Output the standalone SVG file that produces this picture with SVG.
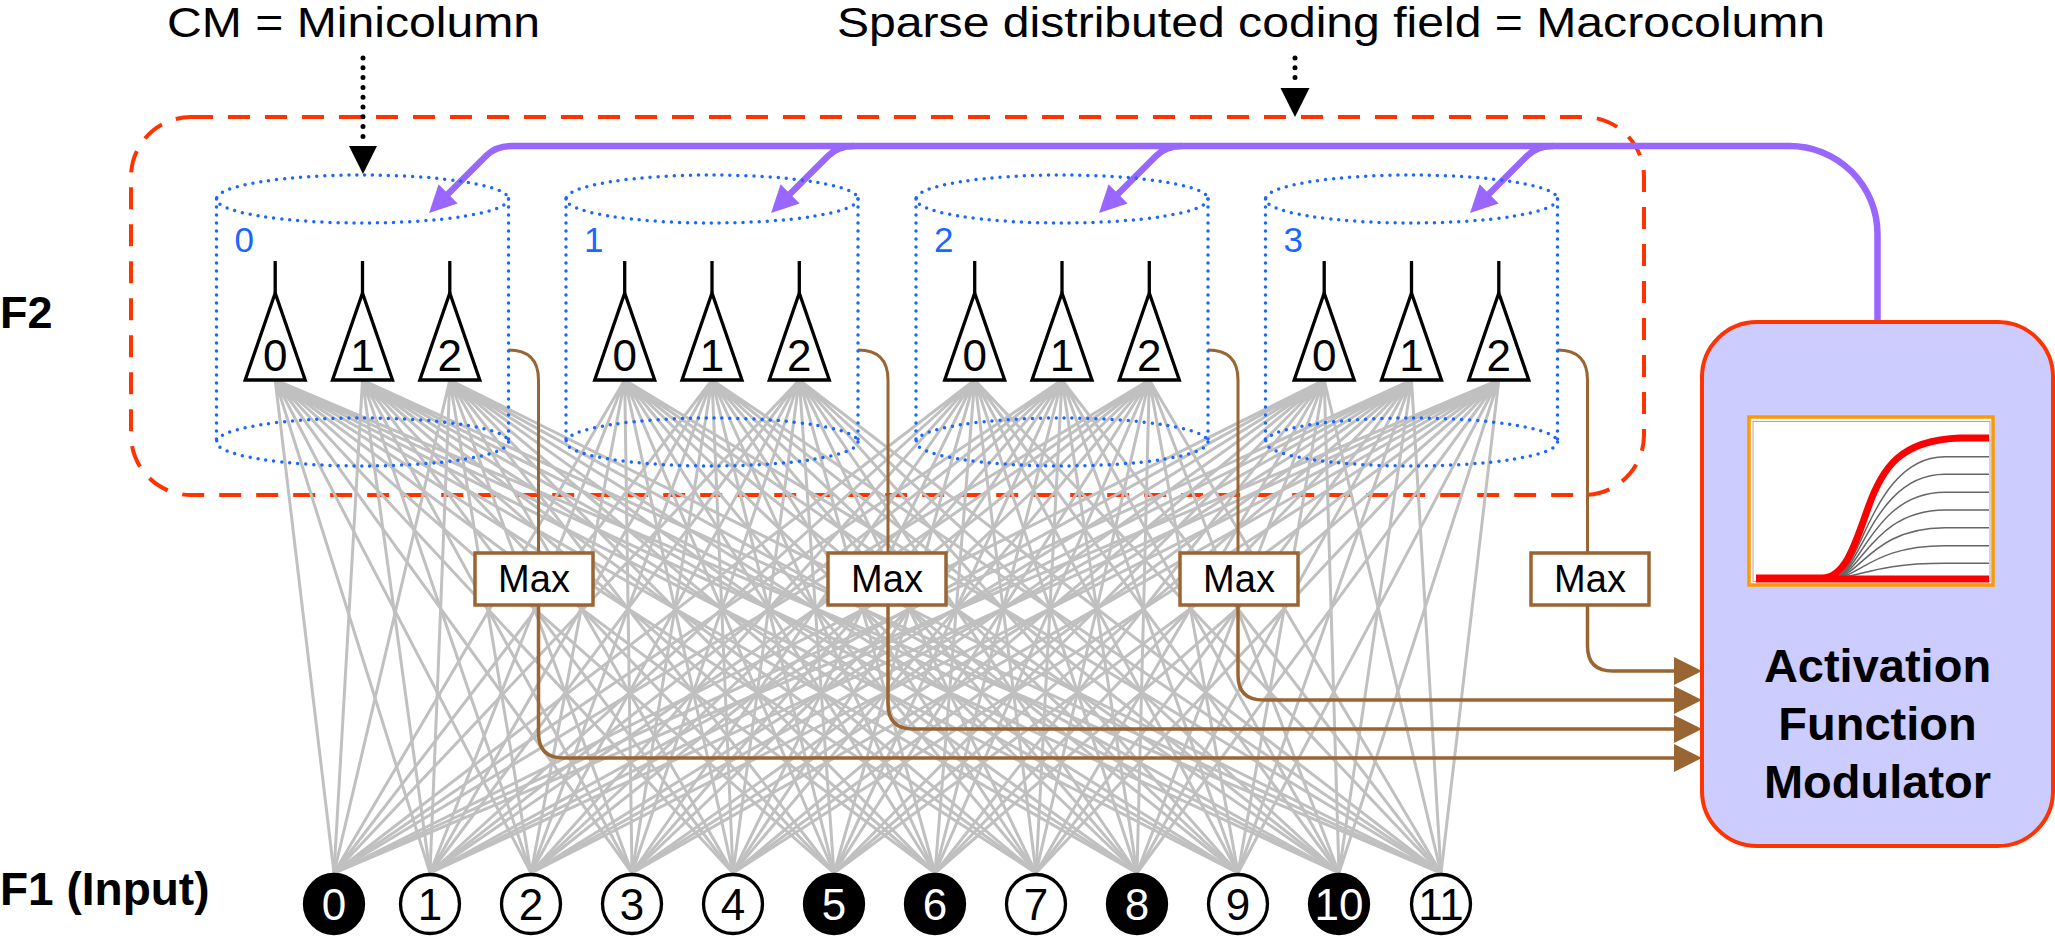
<svg xmlns="http://www.w3.org/2000/svg" width="2055" height="936" viewBox="0 0 2055 936">
<style>
text{font-family:"Liberation Sans",Arial,Helvetica,sans-serif;fill:#000}
.title{font-size:43px}
.lab{font-size:45px;font-weight:bold}
.cyl{fill:none;stroke:#1a66ff;stroke-width:3.5;stroke-dasharray:0 8;stroke-linecap:round}
.cnum{font-size:35px;fill:#1a66ff}
.tri{fill:#fff;stroke:#000;stroke-width:3.3}
.stem{stroke:#000;stroke-width:3.3}
.ndig{font-size:44px;text-anchor:middle}
.syn{fill:none;stroke:#c0c0c0;stroke-width:3}
.maxbox{fill:#fff;stroke:#996633;stroke-width:3.5}
.maxt{font-size:38px;text-anchor:middle}
.bup{fill:none;stroke:#996633;stroke-width:3}
.bdn{fill:none;stroke:#996633;stroke-width:3.5}
.pur{fill:none;stroke:#9966ff;stroke-width:6.5}
.dot{fill:none;stroke:#000;stroke-width:5;stroke-dasharray:0 9.8;stroke-linecap:round}
.inp{stroke:#000;stroke-width:3.3}
.on{fill:#000}
.off{fill:#fff}
.idig{font-size:44px;text-anchor:middle}
.afm{font-size:47px;font-weight:bold;text-anchor:middle}
.gc{fill:none;stroke:#666;stroke-width:1.5}
.rc{fill:none;stroke:#ff0000;stroke-width:7}
</style>
<defs>
<marker id="ahP" markerUnits="userSpaceOnUse" markerWidth="27" markerHeight="27" refX="19" refY="13.5" orient="auto"><path d="M0,0 L27,13.5 L0,27 z" fill="#9966ff"/></marker>
<marker id="ahB" markerUnits="userSpaceOnUse" markerWidth="28" markerHeight="28" refX="16" refY="14" orient="auto"><path d="M0,0 L28,14 L0,28 z" fill="#996633"/></marker>
</defs>
<rect width="2055" height="936" fill="#fff"/>

<g id="titles">
<text class="title" x="167" y="37" textLength="373" lengthAdjust="spacingAndGlyphs">CM = Minicolumn</text>
<text class="title" x="837" y="37" textLength="988" lengthAdjust="spacingAndGlyphs">Sparse distributed coding field = Macrocolumn</text>
<text class="lab" x="0" y="328">F2</text>
<text class="lab" x="0" y="905" style="font-size:46px">F1 (Input)</text>
</g>

<g id="macrocolumn">
<rect x="131" y="117" width="1513" height="378" rx="60" ry="60" fill="none" stroke="#ff3300" stroke-width="4" stroke-dasharray="22 15"/>
</g>

<g id="connectors">
<g id="synapses">
<path class="syn" d="M275.2,380L334,873M275.2,380L430,873M275.2,380L531,873M275.2,380L632,873M275.2,380L733,873M275.2,380L834,873M275.2,380L935,873M275.2,380L1036,873M275.2,380L1137,873M275.2,380L1238,873M275.2,380L1339,873M275.2,380L1441,873"/>
<path class="syn" d="M362.5,380L334,873M362.5,380L430,873M362.5,380L531,873M362.5,380L632,873M362.5,380L733,873M362.5,380L834,873M362.5,380L935,873M362.5,380L1036,873M362.5,380L1137,873M362.5,380L1238,873M362.5,380L1339,873M362.5,380L1441,873"/>
<path class="syn" d="M449.8,380L334,873M449.8,380L430,873M449.8,380L531,873M449.8,380L632,873M449.8,380L733,873M449.8,380L834,873M449.8,380L935,873M449.8,380L1036,873M449.8,380L1137,873M449.8,380L1238,873M449.8,380L1339,873M449.8,380L1441,873"/>
<path class="syn" d="M624.7,380L334,873M624.7,380L430,873M624.7,380L531,873M624.7,380L632,873M624.7,380L733,873M624.7,380L834,873M624.7,380L935,873M624.7,380L1036,873M624.7,380L1137,873M624.7,380L1238,873M624.7,380L1339,873M624.7,380L1441,873"/>
<path class="syn" d="M712,380L334,873M712,380L430,873M712,380L531,873M712,380L632,873M712,380L733,873M712,380L834,873M712,380L935,873M712,380L1036,873M712,380L1137,873M712,380L1238,873M712,380L1339,873M712,380L1441,873"/>
<path class="syn" d="M799.3,380L334,873M799.3,380L430,873M799.3,380L531,873M799.3,380L632,873M799.3,380L733,873M799.3,380L834,873M799.3,380L935,873M799.3,380L1036,873M799.3,380L1137,873M799.3,380L1238,873M799.3,380L1339,873M799.3,380L1441,873"/>
<path class="syn" d="M974.7,380L334,873M974.7,380L430,873M974.7,380L531,873M974.7,380L632,873M974.7,380L733,873M974.7,380L834,873M974.7,380L935,873M974.7,380L1036,873M974.7,380L1137,873M974.7,380L1238,873M974.7,380L1339,873M974.7,380L1441,873"/>
<path class="syn" d="M1062,380L334,873M1062,380L430,873M1062,380L531,873M1062,380L632,873M1062,380L733,873M1062,380L834,873M1062,380L935,873M1062,380L1036,873M1062,380L1137,873M1062,380L1238,873M1062,380L1339,873M1062,380L1441,873"/>
<path class="syn" d="M1149.3,380L334,873M1149.3,380L430,873M1149.3,380L531,873M1149.3,380L632,873M1149.3,380L733,873M1149.3,380L834,873M1149.3,380L935,873M1149.3,380L1036,873M1149.3,380L1137,873M1149.3,380L1238,873M1149.3,380L1339,873M1149.3,380L1441,873"/>
<path class="syn" d="M1324.2,380L334,873M1324.2,380L430,873M1324.2,380L531,873M1324.2,380L632,873M1324.2,380L733,873M1324.2,380L834,873M1324.2,380L935,873M1324.2,380L1036,873M1324.2,380L1137,873M1324.2,380L1238,873M1324.2,380L1339,873M1324.2,380L1441,873"/>
<path class="syn" d="M1411.5,380L334,873M1411.5,380L430,873M1411.5,380L531,873M1411.5,380L632,873M1411.5,380L733,873M1411.5,380L834,873M1411.5,380L935,873M1411.5,380L1036,873M1411.5,380L1137,873M1411.5,380L1238,873M1411.5,380L1339,873M1411.5,380L1441,873"/>
<path class="syn" d="M1498.8,380L334,873M1498.8,380L430,873M1498.8,380L531,873M1498.8,380L632,873M1498.8,380L733,873M1498.8,380L834,873M1498.8,380L935,873M1498.8,380L1036,873M1498.8,380L1137,873M1498.8,380L1238,873M1498.8,380L1339,873M1498.8,380L1441,873"/>
</g>
<g id="to-max">
<path class="bup" d="M508.5,350 Q538.5,350 538.5,380 V553"/>
<path class="bup" d="M858,350 Q888,350 888,380 V553"/>
<path class="bup" d="M1208,350 Q1238,350 1238,380 V553"/>
<path class="bup" d="M1557.5,350 Q1587.5,350 1587.5,380 V553"/>
</g>
<g id="max-to-afm">
<path class="bdn" d="M538.5,605 V733 Q538.5,758 563.5,758 H1690" marker-end="url(#ahB)"/>
<path class="bdn" d="M888,605 V704 Q888,729 913,729 H1690" marker-end="url(#ahB)"/>
<path class="bdn" d="M1238,605 V675 Q1238,700 1263,700 H1690" marker-end="url(#ahB)"/>
<path class="bdn" d="M1587.5,605 V646 Q1587.5,671 1612.5,671 H1690" marker-end="url(#ahB)"/>
</g>
<g id="feedback">
<path class="pur" d="M1877.5,322 V234 A88,88 0 0 0 1789.5,146 H512 Q496,146 486,156 L434.7,207.3" marker-end="url(#ahP)"/>
<path class="pur" d="M854,146 Q838,146 828,156 L776.7,207.3" marker-end="url(#ahP)"/>
<path class="pur" d="M1182,146 Q1166,146 1156,156 L1104.7,207.3" marker-end="url(#ahP)"/>
<path class="pur" d="M1553,146 Q1537,146 1527,156 L1475.7,207.3" marker-end="url(#ahP)"/>
</g>
<g id="label-pointers">
<line class="dot" x1="363" y1="58" x2="363" y2="137"/>
<polygon points="349,146 377,146 363,174" fill="#000"/>
<line class="dot" x1="1295" y1="58" x2="1295" y2="79"/>
<polygon points="1280.5,88 1309.5,88 1295,117" fill="#000"/>
</g>
</g>

<g id="minicolumn-0">
<ellipse class="cyl" cx="362.5" cy="199" rx="146" ry="24"/>
<ellipse class="cyl" cx="362.5" cy="442" rx="146" ry="24"/>
<line class="cyl" x1="216.5" y1="199" x2="216.5" y2="442"/>
<line class="cyl" x1="508.5" y1="199" x2="508.5" y2="442"/>
<text class="cnum" x="234.5" y="252">0</text>
<g id="cm0-cell0"><line class="stem" x1="275.2" y1="261" x2="275.2" y2="293"/><polygon class="tri" points="275.2,293 245.2,380 305.2,380"/><text class="ndig" x="275.2" y="371">0</text></g>
<g id="cm0-cell1"><line class="stem" x1="362.5" y1="261" x2="362.5" y2="293"/><polygon class="tri" points="362.5,293 332.5,380 392.5,380"/><text class="ndig" x="362.5" y="371">1</text></g>
<g id="cm0-cell2"><line class="stem" x1="449.8" y1="261" x2="449.8" y2="293"/><polygon class="tri" points="449.8,293 419.8,380 479.8,380"/><text class="ndig" x="449.8" y="371">2</text></g>
</g>

<g id="minicolumn-1">
<ellipse class="cyl" cx="712" cy="199" rx="146" ry="24"/>
<ellipse class="cyl" cx="712" cy="442" rx="146" ry="24"/>
<line class="cyl" x1="566" y1="199" x2="566" y2="442"/>
<line class="cyl" x1="858" y1="199" x2="858" y2="442"/>
<text class="cnum" x="584" y="252">1</text>
<g id="cm1-cell0"><line class="stem" x1="624.7" y1="261" x2="624.7" y2="293"/><polygon class="tri" points="624.7,293 594.7,380 654.7,380"/><text class="ndig" x="624.7" y="371">0</text></g>
<g id="cm1-cell1"><line class="stem" x1="712" y1="261" x2="712" y2="293"/><polygon class="tri" points="712,293 682,380 742,380"/><text class="ndig" x="712" y="371">1</text></g>
<g id="cm1-cell2"><line class="stem" x1="799.3" y1="261" x2="799.3" y2="293"/><polygon class="tri" points="799.3,293 769.3,380 829.3,380"/><text class="ndig" x="799.3" y="371">2</text></g>
</g>

<g id="minicolumn-2">
<ellipse class="cyl" cx="1062" cy="199" rx="146" ry="24"/>
<ellipse class="cyl" cx="1062" cy="442" rx="146" ry="24"/>
<line class="cyl" x1="916" y1="199" x2="916" y2="442"/>
<line class="cyl" x1="1208" y1="199" x2="1208" y2="442"/>
<text class="cnum" x="934" y="252">2</text>
<g id="cm2-cell0"><line class="stem" x1="974.7" y1="261" x2="974.7" y2="293"/><polygon class="tri" points="974.7,293 944.7,380 1004.7,380"/><text class="ndig" x="974.7" y="371">0</text></g>
<g id="cm2-cell1"><line class="stem" x1="1062" y1="261" x2="1062" y2="293"/><polygon class="tri" points="1062,293 1032,380 1092,380"/><text class="ndig" x="1062" y="371">1</text></g>
<g id="cm2-cell2"><line class="stem" x1="1149.3" y1="261" x2="1149.3" y2="293"/><polygon class="tri" points="1149.3,293 1119.3,380 1179.3,380"/><text class="ndig" x="1149.3" y="371">2</text></g>
</g>

<g id="minicolumn-3">
<ellipse class="cyl" cx="1411.5" cy="199" rx="146" ry="24"/>
<ellipse class="cyl" cx="1411.5" cy="442" rx="146" ry="24"/>
<line class="cyl" x1="1265.5" y1="199" x2="1265.5" y2="442"/>
<line class="cyl" x1="1557.5" y1="199" x2="1557.5" y2="442"/>
<text class="cnum" x="1283.5" y="252">3</text>
<g id="cm3-cell0"><line class="stem" x1="1324.2" y1="261" x2="1324.2" y2="293"/><polygon class="tri" points="1324.2,293 1294.2,380 1354.2,380"/><text class="ndig" x="1324.2" y="371">0</text></g>
<g id="cm3-cell1"><line class="stem" x1="1411.5" y1="261" x2="1411.5" y2="293"/><polygon class="tri" points="1411.5,293 1381.5,380 1441.5,380"/><text class="ndig" x="1411.5" y="371">1</text></g>
<g id="cm3-cell2"><line class="stem" x1="1498.8" y1="261" x2="1498.8" y2="293"/><polygon class="tri" points="1498.8,293 1468.8,380 1528.8,380"/><text class="ndig" x="1498.8" y="371">2</text></g>
</g>

<g id="max-0"><rect class="maxbox" x="475" y="553" width="118" height="52"/><text class="maxt" x="534" y="592">Max</text></g>
<g id="max-1"><rect class="maxbox" x="828" y="553" width="118" height="52"/><text class="maxt" x="887" y="592">Max</text></g>
<g id="max-2"><rect class="maxbox" x="1180" y="553" width="118" height="52"/><text class="maxt" x="1239" y="592">Max</text></g>
<g id="max-3"><rect class="maxbox" x="1531" y="553" width="118" height="52"/><text class="maxt" x="1590" y="592">Max</text></g>

<g id="afm">
<rect x="1702" y="322" width="351" height="524" rx="55" ry="55" fill="#ccccff" stroke="#ff3300" stroke-width="4"/>
<rect x="1749" y="417" width="244" height="168" fill="#fff" stroke="#ff9900" stroke-width="3.5"/>
<rect x="1753" y="421.5" width="237" height="160" fill="none" stroke="#aaa" stroke-width="1"/>
<path class="gc" d="M1833,578 C1860,578 1872,563.3 1945,563.3 H1989"/>
<path class="gc" d="M1833,578 C1860,578 1872,545.7 1945,545.7 H1989"/>
<path class="gc" d="M1833,578 C1860,578 1872,527.7 1945,527.7 H1989"/>
<path class="gc" d="M1833,578 C1860,578 1872,510 1945,510 H1989"/>
<path class="gc" d="M1833,578 C1860,578 1872,492.3 1945,492.3 H1989"/>
<path class="gc" d="M1833,578 C1860,578 1872,474.3 1945,474.3 H1989"/>
<path class="gc" d="M1833,578 C1860,578 1872,456.7 1945,456.7 H1989"/>
<line class="rc" x1="1756" y1="579" x2="1989" y2="579"/>
<path class="rc" d="M1756,578 H1822 C1845,578 1855,545 1868,508 C1882,468 1900,440 1960,438 H1989"/>
<text class="afm" x="1877.5" y="682">Activation</text>
<text class="afm" x="1877.5" y="740">Function</text>
<text class="afm" x="1877.5" y="798">Modulator</text>
</g>

<g id="f1-inputs">
<g id="f1-0"><circle class="inp on" cx="334" cy="904" r="29.5"/><text class="idig" x="334" y="920" style="fill:#fff">0</text></g>
<g id="f1-1"><circle class="inp off" cx="430" cy="904" r="29.5"/><text class="idig" x="430" y="920">1</text></g>
<g id="f1-2"><circle class="inp off" cx="531" cy="904" r="29.5"/><text class="idig" x="531" y="920">2</text></g>
<g id="f1-3"><circle class="inp off" cx="632" cy="904" r="29.5"/><text class="idig" x="632" y="920">3</text></g>
<g id="f1-4"><circle class="inp off" cx="733" cy="904" r="29.5"/><text class="idig" x="733" y="920">4</text></g>
<g id="f1-5"><circle class="inp on" cx="834" cy="904" r="29.5"/><text class="idig" x="834" y="920" style="fill:#fff">5</text></g>
<g id="f1-6"><circle class="inp on" cx="935" cy="904" r="29.5"/><text class="idig" x="935" y="920" style="fill:#fff">6</text></g>
<g id="f1-7"><circle class="inp off" cx="1036" cy="904" r="29.5"/><text class="idig" x="1036" y="920">7</text></g>
<g id="f1-8"><circle class="inp on" cx="1137" cy="904" r="29.5"/><text class="idig" x="1137" y="920" style="fill:#fff">8</text></g>
<g id="f1-9"><circle class="inp off" cx="1238" cy="904" r="29.5"/><text class="idig" x="1238" y="920">9</text></g>
<g id="f1-10"><circle class="inp on" cx="1339" cy="904" r="29.5"/><text class="idig" x="1339" y="920" style="fill:#fff">10</text></g>
<g id="f1-11"><circle class="inp off" cx="1441" cy="904" r="29.5"/><text class="idig" x="1441" y="920">11</text></g>
</g>
</svg>
